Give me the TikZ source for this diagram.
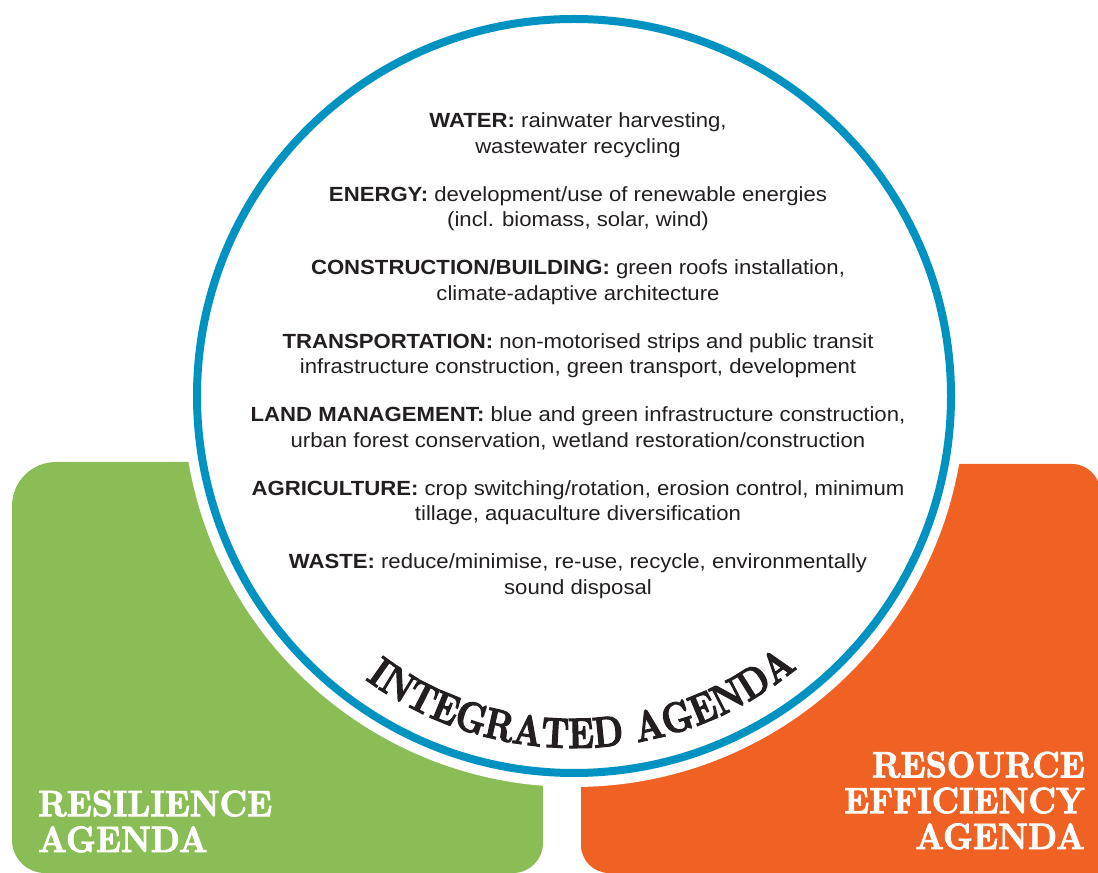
\documentclass[tikz,border=0pt]{standalone}
\usepackage{fontspec}
\setmainfont{Liberation Sans}[FakeStretch=1.08]
\newfontfamily\agendafont{lmroman10-bold.otf}[FakeStretch=0.9, FakeBold=2.2]
\newfontfamily\arcfont{lmroman10-bold.otf}[FakeStretch=0.8, FakeBold=2.4]
\usetikzlibrary{decorations.text}

\definecolor{leafgreen}{HTML}{8BBD57}
\definecolor{flameorange}{HTML}{F06124}
\definecolor{ringblue}{HTML}{0093C1}
\definecolor{ink}{HTML}{231F20}

\tikzset{
  item/.style={align=center, anchor=base, inner sep=0pt, text=ink,
               font=\fontsize{20.5}{25.5}\selectfont},
  agendalabel/.style={inner sep=0pt, text=white,
               font=\agendafont\fontsize{36.8}{35.8}\selectfont},
}

\begin{document}
\begin{tikzpicture}[x=1pt, y=1pt]
  \useasboundingbox (0,0) rectangle (1098,873);
  \clip (0,0) rectangle (1098,873);

  % the three agendas
  \coordinate (c) at (574,477);

  % resilience panel (left)
  \fill[leafgreen] (12,33) -- (12,367) arc[start angle=180, end angle=90, radius=44pt]
    -- (543,411) -- (543,30) arc[start angle=0, end angle=-90, radius=30pt]
    -- (45,0) arc[start angle=270, end angle=180, radius=33pt] -- cycle;

  % resource efficiency panel (right)
  \fill[flameorange] (581,28) -- (581,409) -- (1072,409)
    arc[start angle=90, end angle=0, radius=28pt] -- (1100,-5) -- (609,-5)
    -- (609,0) arc[start angle=270, end angle=180, radius=28pt] -- cycle;

  % integrated agenda circle with its white halo
  \fill[white] (c) circle[radius=391pt];
  \draw[ringblue, line width=8pt] (c) circle[radius=377pt];

  % sector measures (base anchor sits on the last line)
  \node[item] (water) at (578,719.5)
    {\textbf{WATER:} rainwater harvesting,\\wastewater recycling};
  \node[item] (energy) at (578,646)
    {\textbf{ENERGY:} development/use of renewable energies\\(incl. biomass, solar, wind)};
  \node[item] (building) at (578,572.5)
    {\textbf{CONSTRUCTION/BUILDING:} green roofs installation,\\climate-adaptive architecture};
  \node[item] (transport) at (578,499)
    {\textbf{TRANSPORTATION:} non-motorised strips and public transit\\infrastructure construction, green transport, development};
  \node[item] (land) at (578,425.5)
    {\textbf{LAND MANAGEMENT:} blue and green infrastructure construction,\\urban forest conservation, wetland restoration/construction};
  \node[item] (agri) at (578,352)
    {\textbf{AGRICULTURE:} crop switching/rotation, erosion control, minimum\\tillage, aquaculture diversification};
  \node[item] (waste) at (578,278.5)
    {\textbf{WASTE:} reduce/minimise, re-use, recycle, environmentally\\sound disposal};

  % curved title along the lower rim
  \path[decorate, decoration={text along path, text align=center, text color=ink,
      text={|\arcfont\fontsize{43}{43}\selectfont|INTEGRATED AGENDA}}]
    (c) ++(-132:352pt) arc[start angle=-132, end angle=-45, radius=352pt];

  % panel titles
  \node[agendalabel, align=left, anchor=base west] (resilience) at (38,21)
    {RESILIENCE\\AGENDA};
  \node[agendalabel, align=right, anchor=base east] (efficiency) at (1085,24)
    {RESOURCE\\EFFICIENCY\\AGENDA};
\end{tikzpicture}
\end{document}
